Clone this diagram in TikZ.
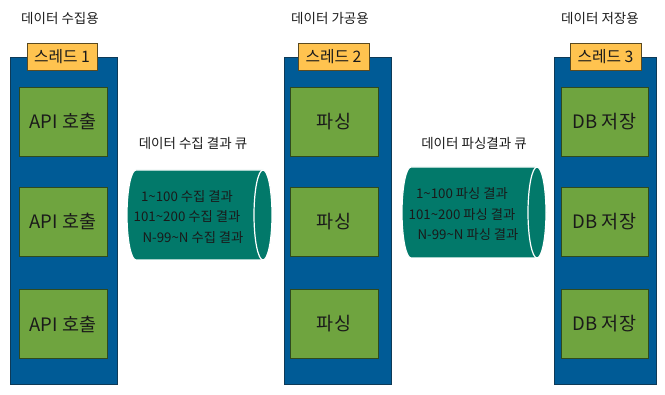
\documentclass[tikz,border=0pt]{standalone}
\usepackage{fontspec}
\setmainfont{Noto Sans CJK KR}
\definecolor{colblue}{HTML}{005B96}
\definecolor{colborder}{HTML}{0E3A57}
\definecolor{lblfill}{HTML}{FFC34F}
\definecolor{lblborder}{HTML}{5A4A20}
\definecolor{boxgreen}{HTML}{6FA43F}
\definecolor{boxborder}{HTML}{2F4A1E}
\definecolor{qteal}{HTML}{02796A}
\definecolor{txt}{HTML}{1A1A1A}
\tikzset{
  colbox/.style={draw=colborder, fill=colblue, line width=0.8pt},
  lblbox/.style={draw=lblborder, fill=lblfill, line width=0.8pt, text=txt, font=\fontsize{15.8}{18}\selectfont, inner sep=0pt},
  workbox/.style={draw=boxborder, fill=boxgreen, line width=0.8pt, text=txt, font=\fontsize{18.5}{21}\selectfont, inner sep=0pt},
  titletext/.style={text=txt, font=\fontsize{13.5}{16}\selectfont, inner sep=0pt},
  qtext/.style={text=txt, font=\fontsize{13.3}{20.5}\selectfont, inner sep=0pt, align=center},
  qbody/.style={fill=qteal, draw=white, line width=1.2pt},
}
\begin{document}
\begin{tikzpicture}[x=1pt,y=-1pt]
\useasboundingbox (0,0) rectangle (665,395);
% titles
\node[titletext] (title1) at (60,18) {데이터 수집용};
\node[titletext] (title2) at (330,18) {데이터 가공용};
\node[titletext] (title3) at (600,18) {데이터 저장용};
% columns
\path[colbox] (10,57) rectangle (117,384);
\node[inner sep=0pt, minimum width=107pt, minimum height=327pt] (col1) at (63.5,220.5) {};
\path[colbox] (284,57) rectangle (391,384);
\node[inner sep=0pt, minimum width=107pt, minimum height=327pt] (col2) at (337.5,220.5) {};
\path[colbox] (554,57) rectangle (656,384);
\node[inner sep=0pt, minimum width=102pt, minimum height=327pt] (col3) at (605,220.5) {};
% thread labels
\node[lblbox, minimum width=70pt, minimum height=27pt] (lbl1) at (62,56.5) {스레드 1};
\node[lblbox, minimum width=71pt, minimum height=27pt] (lbl2) at (333.5,56.5) {스레드 2};
\node[lblbox, minimum width=71pt, minimum height=27pt] (lbl3) at (605.5,56.5) {스레드 3};
% work boxes
\foreach \n/\y in {1/121.5, 2/221.5, 3/324}{
  \node[workbox, minimum width=88pt, minimum height=69pt] (api\n) at (63,\y) {API 호출};
  \node[workbox, minimum width=88pt, minimum height=69pt] (parse\n) at (334,\y) {파싱};
  \node[workbox, minimum width=87pt, minimum height=69pt] (db\n) at (604.5,\y) {DB 저장};
}
% queue titles
\node[titletext] (qt1) at (193,143) {데이터 수집 결과 큐};
\node[titletext] (qt2) at (474,143) {데이터 파싱결과 큐};
% queue 1
\path[qbody] (136,260) -- (263,260) -- (263,170) -- (136,170) arc[start angle=270, end angle=90, x radius=9, y radius=45] -- cycle;
\path[qbody] (263,215) ellipse[x radius=9, y radius=45];
\node[qtext] (q1) at (187,217) {1\textasciitilde100 수집 결과\\101\textasciitilde200 수집 결과\\\hspace*{12pt}N-99\textasciitilde N 수집 결과};
% queue 2
\path[qbody] (411,258) -- (537,258) -- (537,167) -- (411,167) arc[start angle=270, end angle=90, x radius=9, y radius=45.5] -- cycle;
\path[qbody] (537,212.5) ellipse[x radius=9, y radius=45.5];
\node[qtext] (q2) at (462,214.5) {1\textasciitilde100 파싱 결과\\101\textasciitilde200 파싱 결과\\\hspace*{12pt}N-99\textasciitilde N 파싱 결과};
\end{tikzpicture}
\end{document}
